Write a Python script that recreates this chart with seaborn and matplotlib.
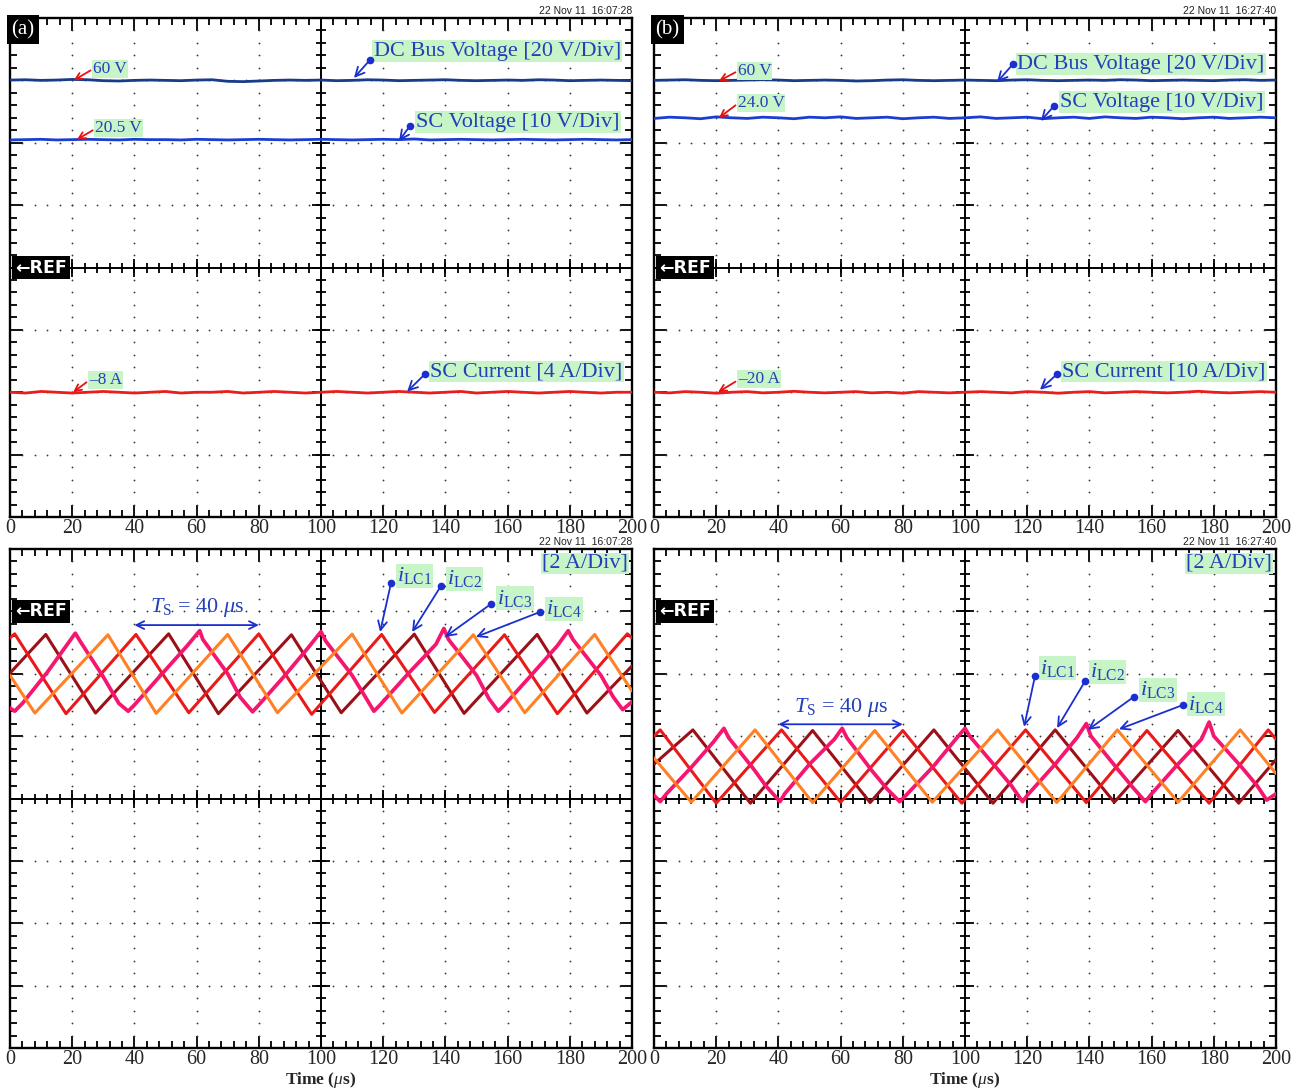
import matplotlib
matplotlib.use("Agg")
import matplotlib.pyplot as plt
import numpy as np
import pandas as pd
import seaborn as sns

# ---------------- data ----------------
time_ticks = [0, 20, 40, 60, 80, 100, 120, 140, 160, 180, 200]
t_top = list(range(0, 201, 5))

# top panels (volts / amps)
dc_bus_a = [60.1, 60.2, 60.0, 60.1, 60.3, 60.2, 59.9, 59.8, 60.0, 60.1,
            60.0, 59.9, 60.1, 60.2, 59.7, 59.6, 59.8, 60.0, 60.1, 60.0,
            60.1, 59.9, 60.0, 60.2, 60.1, 59.9, 60.0, 60.1, 60.2, 60.0,
            59.9, 60.0, 60.1, 60.0, 60.2, 60.1, 59.9, 60.0, 60.1, 60.0, 59.9]
sc_volt_a = [20.45, 20.5, 20.55, 20.45, 20.5, 20.55, 20.5, 20.45, 20.55, 20.5,
             20.5, 20.45, 20.55, 20.5, 20.45, 20.5, 20.55, 20.5, 20.45, 20.5,
             20.55, 20.5, 20.45, 20.5, 20.55, 20.5, 20.6, 20.45, 20.5, 20.55,
             20.5, 20.45, 20.5, 20.55, 20.5, 20.45, 20.5, 20.55, 20.5, 20.45, 20.5]
sc_curr_a = [-8.0, -8.05, -7.95, -8.0, -8.05, -8.0, -7.95, -8.0, -8.05, -8.0,
             -7.95, -8.05, -8.0, -8.0, -7.95, -8.05, -8.0, -7.95, -8.0, -8.05,
             -8.0, -7.95, -8.0, -8.05, -8.0, -7.95, -8.0, -8.05, -8.0, -7.95,
             -8.05, -8.0, -7.95, -8.0, -8.05, -8.0, -7.95, -8.0, -8.05, -8.0, -8.0]
dc_bus_b = [60.0, 60.1, 60.2, 60.0, 59.9, 60.0, 60.1, 60.2, 60.1, 59.9,
            60.0, 60.1, 60.0, 59.8, 59.9, 60.1, 60.2, 60.0, 59.9, 60.0,
            60.1, 60.0, 59.9, 60.1, 60.2, 60.0, 59.9, 60.0, 60.1, 60.0,
            60.2, 60.1, 59.9, 60.0, 60.1, 60.0, 59.9, 60.1, 60.2, 60.0, 60.1]
sc_volt_b = [23.9, 24.1, 24.0, 23.85, 24.15, 24.0, 23.9, 24.1, 24.0, 23.85,
             24.1, 24.0, 24.15, 23.9, 24.0, 24.1, 23.85, 24.0, 24.1, 23.9,
             24.0, 24.15, 23.9, 24.0, 24.1, 23.85, 24.0, 24.1, 23.9, 24.15,
             24.0, 23.9, 24.1, 24.0, 23.85, 24.0, 24.1, 23.9, 24.0, 24.1, 24.0]
sc_curr_b = [-20.0, -20.1, -19.9, -20.0, -20.15, -20.0, -19.9, -20.1, -20.0, -19.85,
             -20.0, -20.1, -20.0, -19.9, -20.1, -20.0, -20.15, -19.9, -20.0, -20.1,
             -20.0, -19.9, -20.0, -20.1, -19.9, -20.0, -20.15, -20.0, -19.9, -20.1,
             -20.0, -19.9, -20.0, -20.1, -20.0, -19.85, -20.0, -20.1, -20.0, -19.9, -20.0]

# bottom panels: inductor currents (A), vertex times (us)
t_a1 = [0, 1.5, 18, 40.5, 57.5, 80, 97, 119.5, 136.5, 159, 176, 198.5, 200]
i_a1 = [-0.85, -0.72, -3.28, -0.74, -3.25, -0.72, -3.3, -0.74, -3.24, -0.75, -3.28, -0.72, -0.85]
t_a2 = [0, 11.5, 27.5, 51, 67, 90.5, 106.5, 130, 146, 169.5, 185.5, 200]
i_a2 = [-1.98, -0.74, -3.26, -0.72, -3.28, -0.75, -3.25, -0.73, -3.27, -0.74, -3.26, -1.75]
t_a3 = [0, 1.5, 4, 12, 21, 22.5, 30, 35, 38, 40, 48, 57, 61, 62, 70, 74, 78, 80, 88, 96,
        100, 101.5, 110, 114, 117, 119, 128, 137, 139.5, 141, 150, 154, 157, 159, 168, 176,
        179.5, 181, 190, 194, 197, 200]
i_a3 = [-3.1, -3.2, -2.95, -1.95, -0.7, -0.95, -2.1, -2.95, -3.2, -3.0, -2.1, -1.1, -0.62,
        -0.9, -2.0, -2.75, -3.22, -3.0, -2.1, -1.15, -0.65, -0.95, -2.05, -2.7, -3.2, -3.0,
        -2.0, -1.05, -0.55, -0.9, -2.05, -2.8, -3.2, -3.0, -2.0, -1.1, -0.62, -0.9, -2.05,
        -2.75, -3.15, -2.9]
t_a4 = [0, 8, 31.5, 47, 70, 86, 110, 126, 149, 165.5, 188, 200]
i_a4 = [-2.05, -3.26, -0.75, -3.27, -0.74, -3.25, -0.73, -3.26, -0.75, -3.25, -0.74, -2.55]

t_b1 = [0, 2, 20, 41, 60, 80, 99, 119.5, 139, 158.5, 178.5, 197.5, 200]
i_b1 = [-4.0, -3.8, -6.15, -3.8, -6.12, -3.82, -6.15, -3.8, -6.13, -3.82, -6.15, -3.8, -4.1]
t_b2 = [0, 12.5, 31, 51, 69.5, 90, 109, 129, 148, 168.5, 188, 200]
i_b2 = [-4.9, -3.8, -6.15, -3.82, -6.13, -3.8, -6.15, -3.8, -6.12, -3.82, -6.15, -4.75]
t_b3 = [0, 2, 4, 12, 19, 22.5, 24, 32, 36, 40.5, 42, 50, 58, 60.5, 62, 70, 75, 79, 81, 90,
        97, 100, 101.5, 110, 115, 118.5, 120, 129, 136, 139, 140.5, 149, 154, 158, 160, 168,
        176, 178.5, 180, 189, 194, 197, 200]
i_b3 = [-5.9, -6.1, -5.85, -5.0, -4.2, -3.75, -4.05, -5.05, -5.6, -6.1, -5.85, -4.9, -4.1,
        -3.75, -4.05, -5.1, -5.7, -6.1, -5.9, -4.95, -4.1, -3.75, -4.0, -5.0, -5.6, -6.1,
        -5.9, -4.9, -4.05, -3.6, -4.0, -5.05, -5.65, -6.1, -5.85, -4.95, -4.1, -3.55, -4.0,
        -5.0, -5.6, -6.05, -5.85]
t_b4 = [0, 12, 32.5, 51, 71, 89.5, 110.5, 129.5, 149, 168.5, 188.5, 200]
i_b4 = [-4.7, -6.12, -3.8, -6.13, -3.82, -6.12, -3.8, -6.13, -3.8, -6.12, -3.8, -5.2]

# ---------------- style ----------------
sns.set_theme(style="white")
plt.rcParams["font.family"] = ["Liberation Serif", "DejaVu Serif"]
plt.rcParams["mathtext.fontset"] = "custom"
plt.rcParams["mathtext.rm"] = "Liberation Serif"
plt.rcParams["mathtext.it"] = "Liberation Serif:italic"
plt.rcParams["mathtext.bf"] = "Liberation Serif:bold"

NAVY = "#173c8a"
BLUE = "#1b3ed0"
RED_TR = "#ea1c1c"
C1 = "#ea1a1a"
C2 = "#9c1018"
C3 = "#f5176e"
C4 = "#ff8025"
TXT = "#2340b8"
ARW = "#1b2fd0"
GREEN = "#c8f5c8"

fig = plt.figure(figsize=(13, 10.9), dpi=100)
W, H = 1300, 1090


def add_ax(x0, x1, y0, y1):
    return fig.add_axes([x0 / W, 1 - y1 / H, (x1 - x0) / W, (y1 - y0) / H])


ax_ta = add_ax(10, 632, 18, 517)
ax_tb = add_ax(654, 1276, 18, 517)
ax_ba = add_ax(10, 632, 549, 1048)
ax_bb = add_ax(654, 1276, 549, 1048)


def frame(ax):
    ax.set_facecolor("white")
    ax.set_xlim(0, 200)
    ax.set_ylim(-4, 4)
    ax.set_xticks(time_ticks)
    ax.set_xticklabels([str(v) for v in time_ticks], fontsize=14.5)
    ax.set_xticks(np.arange(0, 201, 4), minor=True)
    ax.set_yticks(np.arange(-4, 5, 1))
    ax.set_yticks(np.arange(-4, 4.01, 0.2), minor=True)
    ax.tick_params(which="both", direction="in", top=True, right=True, left=True,
                   bottom=True, labelleft=False, width=1.3, color="black", pad=1.5)
    ax.tick_params(which="major", length=9)
    ax.tick_params(which="minor", length=5)
    for s in ax.spines.values():
        s.set_linewidth(1.7)
        s.set_color("black")
    # dotted graticule
    gx = [x for x in range(20, 200, 20) if x != 100]
    ys = np.arange(-3.8, 3.81, 0.2)
    for x in gx:
        ax.plot([x] * len(ys), ys, ls="none", marker="o", ms=1.3, mew=0, color="#3a3a3a", zorder=1)
    xs = np.arange(4, 200, 4)
    for y in [-3, -2, -1, 1, 2, 3]:
        ax.plot(xs, [y] * len(xs), ls="none", marker="o", ms=1.3, mew=0, color="#3a3a3a", zorder=1)
    # center cross with ticks
    ax.axvline(100, color="black", lw=1.4, zorder=2)
    ax.axhline(0, color="black", lw=1.4, zorder=2)
    mx = np.arange(4, 200, 4)
    ax.plot(mx, np.zeros_like(mx), ls="none", marker="|", ms=7, mew=1.3, color="black", zorder=2)
    Mx = np.arange(20, 200, 20)
    ax.plot(Mx, np.zeros_like(Mx), ls="none", marker="|", ms=13, mew=1.3, color="black", zorder=2)
    my = np.arange(-3.8, 3.81, 0.2)
    ax.plot(np.full_like(my, 100), my, ls="none", marker="_", ms=7, mew=1.3, color="black", zorder=2)
    My = np.arange(-3, 4, 1)
    ax.plot(np.full_like(My, 100), My, ls="none", marker="_", ms=13, mew=1.3, color="black", zorder=2)


def ref_mark(ax, y):
    ax.text(0.008, y, "\u2190REF", transform=ax.get_yaxis_transform(), ha="left", va="center",
            fontsize=12.5, fontweight="bold", color="white", family="DejaVu Sans",
            bbox=dict(boxstyle="square,pad=0.16", fc="black", ec="none"), zorder=8)


def stamp(ax, s):
    ax.text(1.0, 1.004, s, transform=ax.transAxes, ha="right", va="bottom",
            fontsize=7.5, family="Liberation Sans", color="#222222")


def trace(ax, t, v, scale, offset, color, lw=2.0, z=3):
    d = pd.DataFrame({"t": t, "y": np.asarray(v) / scale + offset})
    sns.lineplot(data=d, x="t", y="y", ax=ax, color=color, lw=lw, estimator=None,
                 sort=False, zorder=z, legend=False)


def callout(ax, s, txt, dot, tip, fs=16):
    ax.annotate("", xy=tip, xytext=dot,
                arrowprops=dict(arrowstyle="->", color=ARW, lw=1.3, shrinkA=0, shrinkB=0,
                                mutation_scale=16), zorder=6)
    ax.plot([dot[0]], [dot[1]], "o", color=ARW, ms=4.5, zorder=7)
    ax.text(txt[0], txt[1], s, ha="left", va="center", fontsize=fs, color=TXT,
            bbox=dict(boxstyle="square,pad=0.06", fc=GREEN, ec="none"), zorder=5)


def value_tag(ax, s, txt, tail, tip, fs=12.5):
    ax.annotate("", xy=tip, xytext=tail,
                arrowprops=dict(arrowstyle="->", color="#e81010", lw=1.3, shrinkA=0, shrinkB=0,
                                mutation_scale=12), zorder=6)
    ax.text(txt[0], txt[1], s, ha="left", va="center", fontsize=fs, color=TXT,
            bbox=dict(boxstyle="square,pad=0.05", fc=GREEN, ec="none"), zorder=5)


for ax in (ax_ta, ax_tb, ax_ba, ax_bb):
    frame(ax)

# ---- top (a) ----
trace(ax_ta, t_top, dc_bus_a, 20, 0, NAVY, lw=2.0)
trace(ax_ta, t_top, sc_volt_a, 10, 0, BLUE, lw=2.0)
trace(ax_ta, t_top, sc_curr_a, 4, 0, RED_TR, lw=2.0)
value_tag(ax_ta, "60 V", (26.7, 3.18), (25.9, 3.16), (20.5, 3.0))
value_tag(ax_ta, "20.5 V", (27.3, 2.24), (26.6, 2.2), (21.5, 2.05))
value_tag(ax_ta, "\u20138 A", (25.4, -1.8), (24.6, -1.84), (20.3, -2.0))
callout(ax_ta, "DC Bus Voltage [20 V/Div]", (116.9, 3.47), (115.8, 3.33), (110.6, 3.04))
callout(ax_ta, "SC Voltage [10 V/Div]", (130.6, 2.33), (128.6, 2.27), (125.1, 2.03))
callout(ax_ta, "SC Current [4 A/Div]", (135.2, -1.67), (133.4, -1.71), (127.7, -1.99))
ref_mark(ax_ta, 0)
ax_ta.text(0.0025, 0.996, "(a)", transform=ax_ta.transAxes, ha="left", va="top", fontsize=15,
           color="white", bbox=dict(boxstyle="square,pad=0.22", fc="black", ec="none"), zorder=8)
stamp(ax_ta, "22 Nov 11  16:07:28")

# ---- top (b) ----
trace(ax_tb, t_top, dc_bus_b, 20, 0, NAVY, lw=2.0)
trace(ax_tb, t_top, sc_volt_b, 10, 0, BLUE, lw=2.0)
trace(ax_tb, t_top, sc_curr_b, 10, 0, RED_TR, lw=2.0)
value_tag(ax_tb, "60 V", (26.9, 3.15), (26.2, 3.13), (20.9, 2.99))
value_tag(ax_tb, "24.0 V", (26.9, 2.64), (26.2, 2.6), (20.9, 2.4))
value_tag(ax_tb, "\u201320 A", (26.9, -1.79), (26.2, -1.83), (20.6, -2.0))
callout(ax_tb, "DC Bus Voltage [20 V/Div]", (116.8, 3.26), (115.4, 3.26), (110.3, 2.97))
callout(ax_tb, "SC Voltage [10 V/Div]", (130.6, 2.65), (128.6, 2.59), (124.4, 2.35))
callout(ax_tb, "SC Current [10 A/Div]", (131.3, -1.67), (129.6, -1.71), (124.1, -1.96))
ref_mark(ax_tb, 0)
ax_tb.text(0.0025, 0.996, "(b)", transform=ax_tb.transAxes, ha="left", va="top", fontsize=15,
           color="white", bbox=dict(boxstyle="square,pad=0.22", fc="black", ec="none"), zorder=8)
stamp(ax_tb, "22 Nov 11  16:27:40")

# ---- bottom panels ----
REF_B = 3
for ax, series, ts, labels_y, tsy in (
    (ax_ba, [(t_a2, i_a2, C2), (t_a1, i_a1, C1), (t_a3, i_a3, C3), (t_a4, i_a4, C4)],
     "22 Nov 11  16:07:28", [(3.57, 3.45, 2.67), (3.52, 3.41, 2.67), (3.21, 3.12, 2.59), (3.04, 2.99, 2.59)],
     (3.06, 2.78)),
    (ax_bb, [(t_b2, i_b2, C2), (t_b1, i_b1, C1), (t_b3, i_b3, C3), (t_b4, i_b4, C4)],
     "22 Nov 11  16:27:40", [(2.09, 1.96, 1.15), (2.03, 1.88, 1.13), (1.74, 1.63, 1.10), (1.51, 1.50, 1.11)],
     (1.46, 1.19)),
):
    for t, v, c in series:
        trace(ax, t, v, 2, REF_B, c, lw=2.2 if c != C3 else 2.7)
    ref_mark(ax, REF_B)
    stamp(ax, ts)
    ax.text(198.7, 3.77, "[2 A/Div]", ha="right", va="center", fontsize=16, color=TXT,
            bbox=dict(boxstyle="square,pad=0.06", fc=GREEN, ec="none"), zorder=5)
    # Ts marker
    ax.annotate("", xy=(40, tsy[1]), xytext=(80, tsy[1]),
                arrowprops=dict(arrowstyle="<->", color=ARW, lw=1.3, shrinkA=0, shrinkB=0,
                                mutation_scale=14), zorder=6)
    ax.text(60, tsy[0], r"$T_{\mathrm{S}}$ = 40 $\mu$s", ha="center", va="center",
            fontsize=16, color=TXT, zorder=6)
    txt_x = [124.4, 140.5, 156.6, 172.3]
    dot_x = [122.5, 138.6, 154.7, 170.4]
    tip_x = [119.0, 129.3, 139.9, 149.8]
    if ax is ax_bb:
        txt_x = [124.1, 140.2, 156.3, 171.7]
        dot_x = [122.5, 138.6, 154.3, 170.1]
        tip_x = [119.0, 129.6, 139.5, 149.5]
    for k, (ly, dy, ty) in enumerate(labels_y):
        callout(ax, r"$i_{\mathrm{LC%d}}$" % (k + 1), (txt_x[k], ly), (dot_x[k], dy), (tip_x[k], ty),
                fs=16)
    ax.text(0.5, -0.064, r"Time ($\mu$s)", transform=ax.transAxes, ha="center", va="center",
            fontsize=12.5, fontweight="bold")

for ax in (ax_ta, ax_tb, ax_ba, ax_bb):
    ax.set_xlabel("")
    ax.set_ylabel("")

fig.savefig("out.png", dpi=100)
